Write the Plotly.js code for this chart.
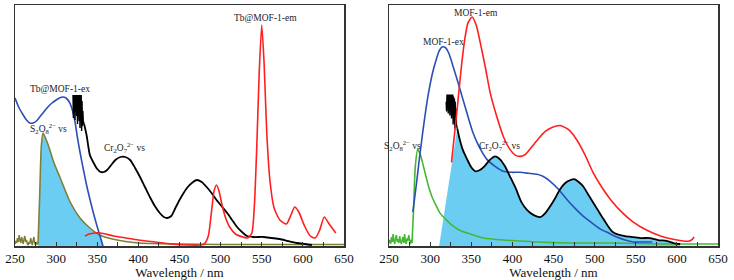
<!DOCTYPE html>
<html>
<head>
<meta charset="utf-8">
<script src="https://cdn.plot.ly/plotly-3.0.1.min.js"></script>
<style>html,body{margin:0;padding:0;background:#fff;}#chart{width:734px;height:280px;}</style>
</head>
<body>
<div id="chart"></div>
<script>
// ===== Left panel (Tb@MOF-1) =====
const tbExNm = [250,255,260,264,268,272,276,280,285,290,295,300,304,308,312,316,319,323,326,329,333,337,341,345,349,353,357];
const tbExI  = [148,138,131,126,123,123,125,129,134,139,143,146,148,149,148,144,138,124,108,94,77,61,47,34,22,11,0];

const tbEmNm = [335,340,347,353,360,370,385,400,420,440,460,475,480,485,489,492,495,498,502,507,511,518,527,533,538,541,544,547,550,553,556,560,565,572,580,585,590,595,602,609,615,620,626,632,640];
const tbEmI  = [10,12,13,13,12,10,8,6,4,2,1,1,2,10,35,55,61,55,40,26,19,12,9,8,13,40,100,175,221,180,115,65,38,26,22,30,39,34,20,10,8,15,29,22,13];

const crCombLNm = [320.5,321,321.5,322,322.5,323,323.5,324,324.5,325,325.5,326,326.5,327,327.5,328,328.5,329,329.5,330,330.5,331,331.5,332,332.5,333,334];
const crCombLI  = [151,128,151,133,151,126,151,140,151,130,151,122,151,138,151,125,151,118,151,132,151,115,145,120,135,125,122];
const crLNm = [334,337,341,345,350,354,358,362,367,372,378,384,390,396,402,408,414,420,426,431,435,440,445,450,455,460,465,471,477,483,489,495,501,508,514,520,526,532,540,552,562,572,582,593,603,611];
const crLI  = [122,111,91,84,77,74,74,76,81,86,89,89,86,78,69,59,49,40,33,29,28,30,38,46,53,59,63,66,64,59,53,46,40,33,26,19,14,10,9,9,8,7,5,3,2,1];

const sNoiseLNm = [250,251,252,253,254,255,256,257,258,259,260,261,262,263,264,265,266,267,268,269,270,271,272,273,274,275,276,277,278];
const sNoiseLI  = [2,5,3,8,4,11,6,3,9,5,2,7,10,4,6,2,1,4,2,8,3,1,5,9,3,1,4,2,2];
const sLNm = [278,280,282,284,286,289,292,297,305,317,329,341,353,374,400,450,500,550,600,650];
const sLI  = [2,50,100,113,110,104,97,84,68,44,28,18,11,6,3,2,1.5,1.5,1.5,1.5];

const overlapLNm = [278,280,282,284,286,289,292,297,305,317,329,341,353,355,357];
const overlapLI  = [0,50,100,113,110,104,97,84,68,44,28,18,11,6,0];

// ===== Right panel (MOF-1) =====
const mofExNm = [279,283,287,291,295,299,303,307,311,315,319,323,328,334,340,346,352,360,369,379,389,399,409,420,430,437,446,456,466,476,486,497,507,517,527,537,547,557,570];
const mofExI  = [34,60,88,114,138,158,174,186,196,200,199,193,180,164,147,130,114,99,87,80,75,74,74,73,72,70,65,57,47,38,30,23,17,13,9,6,4,4,4];

const mofEmNm = [326,330,334,338,342,346,351,356,361,367,373,381,389,397,404,410,416,424,432,440,448,458,468,478,488,498,508,519,533,547,563,580,594,608,615,619,621];
const mofEmI  = [84,115,147,180,207,224,230,222,204,180,154,130,110,97,91,90,92,100,108,115,119,121,117,107,92,74,60,47,34,24,16,10,7,5,5,7,9];

const crCombRNm = [319.5,320,320.5,321,321.5,322,322.5,323,323.5,324,324.5,325,325.5,326,326.5,327,327.5,328,328.5,329,329.5,330,330.5,331,331.5,332,333];
const crCombRI  = [145,135,152,138,152,133,152,140,152,131,152,136,152,128,152,134,152,122,150,130,148,118,145,125,138,122,118];
const crRNm = [333,336,340,345,350,355,360,366,372,379,385,391,397,404,411,418,426,434,440,446,452,458,464,470,476,481,486,492,498,504,510,517,522,527,537,547,557,567,577,588,596,604];
const crRI  = [118,107,96,87,79,75,76,80,86,90,87,80,70,58,44,36,31,29,33,40,48,57,63,66,67,64,60,52,44,36,28,19,14,12,10,9,8,8,6,5,3,2];

const sNoiseRNm = [250,251,252,253,254,255,256,257,258,259,260,261,262,263,264,265,266,267,268,269,270,271,272,273,274,275,276,277,278];
const sNoiseRI  = [3,6,2,9,4,12,5,2,8,11,4,7,3,10,5,2,6,9,3,12,4,2,8,5,11,3,2,6,3];
const sRNm = [278,280,282,285,288,291,294,298,302,307,312,320,328,338,349,365,389,410,430,470,520,580,650];
const sRI  = [3,40,80,97,92,83,73,60,50,41,33,26,20,15,12,8,6,5,4,3,3,2,2];

const overlapREdgeNm = [311];
const overlapREdgeI  = [0];

const labelsL = ["Tb@MOF-1-ex","S<sub>2</sub>O<sub>8</sub><sup>2−</sup> vs","Cr<sub>2</sub>O<sub>7</sub><sup>2−</sup> vs","Tb@MOF-1-em"];
const labelsR = ["MOF-1-em","MOF-1-ex","S<sub>2</sub>O<sub>8</sub><sup>2−</sup> vs","Cr<sub>2</sub>O<sub>7</sub><sup>2−</sup> vs"];

const BLUE = '#2b4fb5', RED = '#ff1f1f', OLIVE = '#7f7f38', GREEN = '#45b833', FILL = '#6ccdf3';

function ln(x, y, color, w, xa, ya, shape) {
  return {x: x, y: y, type: 'scatter', mode: 'lines', xaxis: xa, yaxis: ya,
          line: {color: color, width: w, shape: shape || 'spline', smoothing: 0.6},
          hoverinfo: 'skip', showlegend: false};
}
function fl(x, y, xa, ya) {
  return {x: x, y: y, type: 'scatter', mode: 'lines', xaxis: xa, yaxis: ya, fill: 'tozeroy',
          fillcolor: FILL, line: {width: 0, color: FILL}, hoverinfo: 'skip', showlegend: false};
}

const traces = [
  fl(overlapLNm, overlapLI, 'x', 'y'),
  ln(sNoiseLNm, sNoiseLI, OLIVE, 1.5, 'x', 'y', 'linear'),
  ln(sLNm, sLI, OLIVE, 1.6, 'x', 'y'),
  ln(tbExNm, tbExI, BLUE, 1.6, 'x', 'y'),
  ln(crCombLNm, crCombLI, '#000', 1.4, 'x', 'y', 'linear'),
  ln(crLNm, crLI, '#000', 1.8, 'x', 'y'),
  ln(tbEmNm, tbEmI, RED, 1.6, 'x', 'y'),

  fl(overlapREdgeNm.concat(crRNm), overlapREdgeI.concat(crRI), 'x2', 'y2'),
  ln(sNoiseRNm, sNoiseRI, GREEN, 1.5, 'x2', 'y2', 'linear'),
  ln(sRNm, sRI, GREEN, 1.6, 'x2', 'y2'),
  ln(mofExNm, mofExI, BLUE, 1.6, 'x2', 'y2'),
  ln(crCombRNm, crCombRI, '#000', 1.4, 'x2', 'y2', 'linear'),
  ln(crRNm, crRI, '#000', 1.8, 'x2', 'y2'),
  ln(mofEmNm, mofEmI, RED, 1.6, 'x2', 'y2')
];

const FONT = 'Liberation Serif, Times New Roman, serif';
function xax(dom, anchor) {
  return {domain: dom, anchor: anchor, range: [250, 650], showgrid: false, zeroline: false,
          showline: true, linecolor: '#333', linewidth: 1.5, mirror: true,
          tick0: 250, dtick: 50, ticks: 'inside', ticklen: 4, tickwidth: 1, tickcolor: '#333',
          minor: {dtick: 25, ticks: 'inside', ticklen: 4, tickwidth: 1, tickcolor: '#333'},
          tickfont: {family: FONT, size: 13, color: '#111'},
          title: {text: 'Wavelength / nm', font: {family: FONT, size: 13, color: '#111'}, standoff: 3}};
}
function yax(anchor, top) {
  return {domain: [34/280, 275/280], anchor: anchor, range: [0, top], showgrid: false, zeroline: false,
          showline: true, linecolor: '#333', linewidth: 1.5, mirror: true, ticks: '', showticklabels: false};
}
function ann(text, x, y, xr, yr) {
  return {text: text, x: x, y: y, xref: xr, yref: yr, showarrow: false,
          font: {family: FONT, size: 9.5, color: '#222'}, xanchor: 'center', yanchor: 'middle'};
}

const layout = {
  width: 734, height: 280, margin: {l: 0, r: 0, t: 0, b: 0},
  paper_bgcolor: '#fff', plot_bgcolor: '#fff', showlegend: false,
  xaxis: xax([15/734, 344/734], 'y'),
  yaxis: yax('x', 241),
  xaxis2: xax([389/734, 718/734], 'y2'),
  yaxis2: yax('x2', 242),
  annotations: [
    ann(labelsL[0], 305, 157, 'x', 'y'),
    ann(labelsL[1], 291, 118, 'x', 'y'),
    ann(labelsL[2], 383, 99, 'x', 'y'),
    ann(labelsL[3], 555, 228, 'x', 'y'),
    ann(labelsR[0], 356, 234, 'x2', 'y2'),
    ann(labelsR[1], 316, 205, 'x2', 'y2'),
    ann(labelsR[2], 266, 101, 'x2', 'y2'),
    ann(labelsR[3], 384, 101, 'x2', 'y2')
  ]
};

Plotly.newPlot('chart', traces, layout, {staticPlot: true, displayModeBar: false});
</script>
</body>
</html>
